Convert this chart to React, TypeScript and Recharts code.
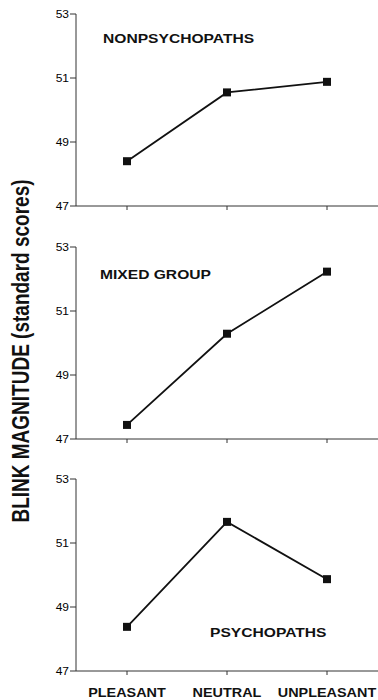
import React from "react";
import { LineChart, Line, XAxis, YAxis } from "recharts";

const categories = ["PLEASANT", "NEUTRAL", "UNPLEASANT"];
const nonpsychopaths = [48.4, 50.55, 50.88];
const mixedGroup = [47.44, 50.29, 52.23];
const psychopaths = [48.38, 51.66, 49.87];
const yTicks = [47, 49, 51, 53];

const FONT = '"Liberation Sans", Arial, Helvetica, sans-serif';
const INK = "#111";
const AXIS = "#333";

const SquareDot = (props: any) => {
  const { cx, cy } = props;
  if (cx == null || cy == null) return null;
  return <rect x={cx - 4} y={cy - 4} width={8} height={8} fill={INK} />;
};

const YTick = (props: any) => {
  const { x, y, payload } = props;
  return (
    <g transform={`translate(${x},${y}) scale(1.2,1)`}>
      <text x={0} y={0} dy={3.6} textAnchor="end" fontSize={10} fontFamily={FONT} fill="#000">
        {payload.value}
      </text>
    </g>
  );
};

const XTick = (props: any) => {
  const { x, y, payload } = props;
  return (
    <g transform={`translate(${x},${y}) scale(1.2,1)`}>
      <text x={0} y={0} dy={20} textAnchor="middle" fontSize={12} fontWeight="bold" fontFamily={FONT} fill={INK}>
        {payload.value}
      </text>
    </g>
  );
};

const NoTick = () => <g />;

interface PanelProps {
  values: number[];
  title: string;
  plotTop: number;
  titleX: number;
  titleY: number;
  showLabels?: boolean;
}

const Panel: React.FC<PanelProps> = ({ values, title, plotTop, titleX, titleY, showLabels }) => {
  const data = categories.map((name, i) => ({ name, value: values[i] }));
  const xHeight = showLabels ? 30 : 8;
  const height = 10 + 192 + xHeight;
  return (
    <>
      <div style={{ position: "absolute", left: 0, top: plotTop - 10 }}>
        <LineChart width={378} height={height} data={data} margin={{ top: 10, right: 0, bottom: 0, left: 0 }}>
          <XAxis
            dataKey="name"
            padding={{ left: 51, right: 51 }}
            height={xHeight}
            tickSize={4}
            tickMargin={2}
            stroke={AXIS}
            tick={showLabels ? <XTick /> : <NoTick />}
            interval={0}
          />
          <XAxis
            xAxisId="top"
            dataKey="name"
            orientation="top"
            height={0}
            tick={false}
            tickLine={false}
            stroke={AXIS}
          />
          <YAxis
            width={76}
            domain={[47, 53]}
            ticks={yTicks}
            tickSize={6}
            tickMargin={1}
            stroke={AXIS}
            tick={<YTick />}
            interval={0}
          />
          <Line
            dataKey="value"
            stroke={INK}
            strokeWidth={1.8}
            dot={<SquareDot />}
            activeDot={false}
            isAnimationActive={false}
          />
        </LineChart>
      </div>
      <div
        style={{
          position: "absolute",
          left: titleX,
          top: titleY - 8,
          height: 16,
          lineHeight: "16px",
          fontFamily: FONT,
          fontWeight: "bold",
          fontSize: 13,
          color: INK,
          whiteSpace: "nowrap",
          transform: "scaleX(1.2)",
          transformOrigin: "left center",
        }}
      >
        {title}
      </div>
    </>
  );
};

const App: React.FC = () => {
  return (
    <div style={{ position: "absolute", left: 0, top: 0, width: 378, height: 700, background: "#fff" }}>
      <Panel values={nonpsychopaths} title="NONPSYCHOPATHS" plotTop={14} titleX={103} titleY={39} />
      <Panel values={mixedGroup} title="MIXED GROUP" plotTop={247} titleX={100} titleY={275} />
      <Panel values={psychopaths} title="PSYCHOPATHS" plotTop={479} titleX={210} titleY={633} showLabels />
      <div
        style={{
          position: "absolute",
          left: 20.5,
          top: 351,
          width: 0,
          height: 0,
        }}
      >
        <div
          style={{
            position: "absolute",
            left: 0,
            top: 0,
            transform: "translate(-50%, -50%) rotate(-90deg) scaleY(1.3)",
            fontFamily: FONT,
            fontWeight: "bold",
            fontSize: 19,
            color: INK,
            whiteSpace: "nowrap",
            lineHeight: "20px",
          }}
        >
          BLINK MAGNITUDE (standard scores)
        </div>
      </div>
    </div>
  );
};

export default App;
